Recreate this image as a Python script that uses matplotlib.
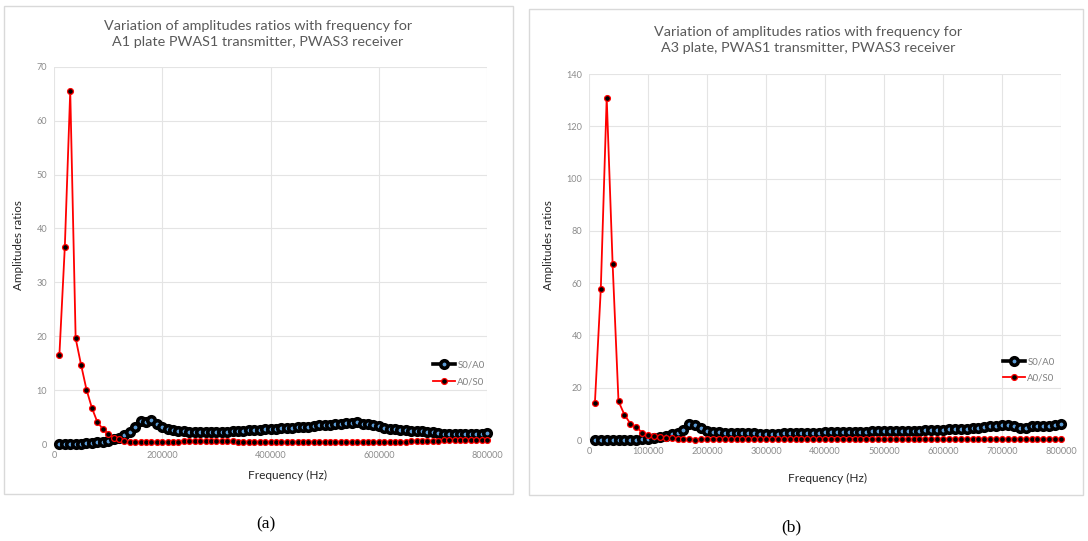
import matplotlib
matplotlib.use("Agg")
import matplotlib.pyplot as plt
from matplotlib.patches import Rectangle

# ---------------------------------------------------------------------------
# Data
# ---------------------------------------------------------------------------
freq_hz = [
    10000, 20000, 30000, 40000, 50000, 60000, 70000, 80000, 90000, 100000,
    110000, 120000, 130000, 140000, 150000, 160000, 170000, 180000, 190000, 200000,
    210000, 220000, 230000, 240000, 250000, 260000, 270000, 280000, 290000, 300000,
    310000, 320000, 330000, 340000, 350000, 360000, 370000, 380000, 390000, 400000,
    410000, 420000, 430000, 440000, 450000, 460000, 470000, 480000, 490000, 500000,
    510000, 520000, 530000, 540000, 550000, 560000, 570000, 580000, 590000, 600000,
    610000, 620000, 630000, 640000, 650000, 660000, 670000, 680000, 690000, 700000,
    710000, 720000, 730000, 740000, 750000, 760000, 770000, 780000, 790000, 800000,
]

# (a) A1 plate
a_s0_a0 = [
    0.05, 0.05, 0.05, 0.05, 0.05, 0.1, 0.2, 0.3, 0.4, 0.6,
    0.9, 1.2, 1.6, 2.2, 3.2, 4.2, 4.0, 4.5, 3.8, 3.2,
    2.8, 2.6, 2.5, 2.4, 2.3, 2.2, 2.2, 2.2, 2.2, 2.2,
    2.3, 2.3, 2.4, 2.5, 2.5, 2.6, 2.6, 2.6, 2.7, 2.8,
    2.8, 2.9, 3.0, 3.0, 3.1, 3.1, 3.2, 3.3, 3.5, 3.6,
    3.6, 3.7, 3.8, 3.9, 3.9, 4.0, 3.8, 3.7, 3.6, 3.3,
    3.0, 2.8, 2.7, 2.6, 2.6, 2.5, 2.5, 2.4, 2.3, 2.2,
    2.0, 1.9, 1.9, 1.9, 1.9, 1.9, 1.9, 1.9, 1.9, 2.0,
]
a_a0_s0 = [
    16.6, 36.6, 65.5, 19.6, 14.7, 10.1, 6.7, 4.1, 2.8, 1.9,
    1.2, 0.9, 0.6, 0.45, 0.4, 0.35, 0.3, 0.3, 0.3, 0.35,
    0.4, 0.4, 0.45, 0.5, 0.5, 0.5, 0.5, 0.5, 0.5, 0.5,
    0.5, 0.5, 0.5, 0.45, 0.45, 0.4, 0.4, 0.4, 0.4, 0.4,
    0.4, 0.4, 0.4, 0.4, 0.4, 0.35, 0.35, 0.3, 0.3, 0.3,
    0.3, 0.3, 0.3, 0.3, 0.3, 0.3, 0.3, 0.3, 0.3, 0.3,
    0.35, 0.35, 0.4, 0.4, 0.45, 0.5, 0.5, 0.5, 0.55, 0.55,
    0.6, 0.65, 0.65, 0.65, 0.65, 0.65, 0.65, 0.65, 0.65, 0.65,
]

# (b) A3 plate
b_s0_a0 = [
    0.1, 0.1, 0.1, 0.1, 0.1, 0.1, 0.1, 0.1, 0.2, 0.3,
    0.6, 1.0, 1.6, 2.2, 2.8, 4.0, 6.0, 5.8, 4.5, 3.6,
    3.2, 3.0, 2.8, 2.7, 2.6, 2.5, 2.5, 2.5, 2.4, 2.4,
    2.4, 2.4, 2.5, 2.5, 2.5, 2.6, 2.6, 2.7, 2.8, 2.9,
    2.9, 3.0, 3.0, 3.0, 3.1, 3.1, 3.2, 3.3, 3.3, 3.4,
    3.4, 3.5, 3.5, 3.6, 3.6, 3.6, 3.7, 3.7, 3.8, 3.9,
    4.1, 4.2, 4.2, 4.3, 4.4, 4.5, 4.8, 5.2, 5.5, 5.9,
    5.7, 5.2, 4.7, 4.5, 5.3, 5.4, 5.3, 5.3, 5.6, 6.2,
]
b_a0_s0 = [
    14.2, 57.8, 131.0, 67.5, 14.8, 9.7, 6.3, 5.0, 2.8, 1.9,
    1.4, 1.1, 0.9, 0.7, 0.5, 0.4, 0.3, 0.1, 0.3, 0.4,
    0.4, 0.4, 0.4, 0.5, 0.5, 0.5, 0.5, 0.5, 0.5, 0.5,
    0.5, 0.5, 0.5, 0.5, 0.5, 0.5, 0.5, 0.5, 0.5, 0.5,
    0.5, 0.45, 0.45, 0.45, 0.4, 0.4, 0.4, 0.4, 0.4, 0.4,
    0.4, 0.4, 0.4, 0.35, 0.35, 0.35, 0.35, 0.3, 0.3, 0.3,
    0.3, 0.3, 0.3, 0.3, 0.3, 0.25, 0.25, 0.25, 0.2, 0.2,
    0.2, 0.2, 0.25, 0.3, 0.2, 0.2, 0.2, 0.2, 0.2, 0.2,
]

titles = [
    "Variation of amplitudes ratios with frequency for\nA1 plate PWAS1 transmitter, PWAS3 receiver",
    "Variation of amplitudes ratios with frequency for\nA3 plate, PWAS1 transmitter, PWAS3 receiver",
]
captions = ["(a)", "(b)"]

W, H = 1088, 541
FONT = ["Lato", "DejaVu Sans"]
plt.rcParams["font.family"] = FONT


def fx(px):
    return px / W


def fy(py):
    return 1 - py / H


def _panel(fig, box, axes_px, title, title_xy, ylab_x, xlab_xy, xstep, ymax, ystep,
           s0a0, a0s0, leg_xy, caption_xy, caption):
    # light grey frame around the whole chart
    x0, y0, x1, y1 = box
    fig.patches.append(Rectangle((fx(x0), fy(y1)), fx(x1 - x0), (y1 - y0) / H,
                                 transform=fig.transFigure, fill=False,
                                 edgecolor="#d9d9d9", linewidth=1.0))

    l, t, r, b = axes_px
    ax = fig.add_axes([fx(l), fy(b), fx(r - l), (b - t) / H])
    ax.set_xlim(0, 800000)
    ax.set_ylim(0, ymax)
    ax.set_xticks(range(0, 800001, xstep))
    ax.set_yticks(range(0, ymax + 1, ystep))
    ax.grid(True, color="#e4e4e4", linewidth=0.8)
    ax.set_axisbelow(True)
    for s in ax.spines.values():
        s.set_visible(False)
    ax.axhline(0, color="#d9d9d9", linewidth=0.8, zorder=1)
    ax.tick_params(length=0, labelsize=6.6, labelcolor="#8c8c8c", pad=5)

    ax.plot(freq_hz, s0a0, color="black", linewidth=2.6, marker="o", markersize=5.4,
            markerfacecolor="#5b9bd5", markeredgecolor="black", markeredgewidth=2.6,
            label="S0/A0", clip_on=False, zorder=3)
    ax.plot(freq_hz, a0s0, color="#ff0000", linewidth=1.3, marker="o", markersize=4.2,
            markerfacecolor="black", markeredgecolor="#ff0000", markeredgewidth=0.9,
            label="A0/S0", clip_on=False, zorder=4)

    ax.legend(loc="center left", bbox_to_anchor=(fx(leg_xy[0]), fy(leg_xy[1])),
              bbox_transform=fig.transFigure, frameon=False, fontsize=7,
              labelcolor="#808080", handlelength=2.3, handletextpad=0.2,
              borderpad=0, borderaxespad=0, labelspacing=0.75)

    fig.text(fx(title_xy[0]), fy(title_xy[1]), title, ha="center", va="center",
             fontsize=10.4, color="#595959", linespacing=1.4)
    fig.text(fx(ylab_x), fy(245), "Amplitudes ratios", rotation=90, ha="center",
             va="center", fontsize=8.4, color="#262626")
    fig.text(fx(xlab_xy[0]), fy(xlab_xy[1]), "Frequency (Hz)", ha="center",
             va="center", fontsize=8.6, color="#262626")
    fig.text(fx(caption_xy[0]), fy(caption_xy[1]), caption, ha="center", va="center",
             fontsize=12.5, family="Liberation Serif", color="black")
    return ax


fig = plt.figure(figsize=(W / 100, H / 100), dpi=100)
fig.patch.set_facecolor("white")

_panel(fig, (4, 6, 513, 494), (54, 66.7, 487, 444), titles[0], (258, 34), 19, (288, 475),
       200000, 70, 10, a_s0_a0, a_a0_s0, (433, 373.5), (266, 524), captions[0])
_panel(fig, (529, 9, 1083, 495), (589, 74, 1061, 440), titles[1], (808, 40), 549, (828, 478),
       100000, 140, 20, b_s0_a0, b_a0_s0, (1003, 370), (791, 527), captions[1])

fig.savefig("out.png", dpi=100, facecolor="white")
